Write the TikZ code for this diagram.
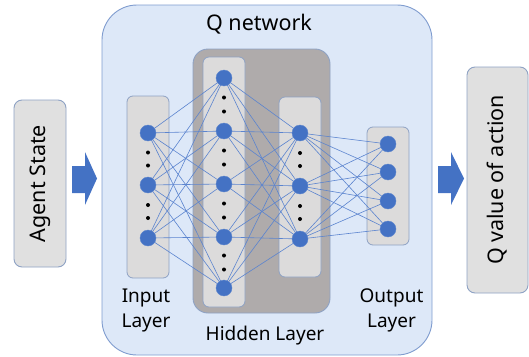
\documentclass[tikz,border=0pt]{standalone}
\usepackage{fontspec}
\setmainfont{Noto Sans}
\definecolor{qfill}{HTML}{DDE8F8}
\definecolor{qborder}{HTML}{7F9CCF}
\definecolor{gfill}{HTML}{E0E0E0}
\definecolor{gborder}{HTML}{8EA2C4}
\definecolor{dfill}{HTML}{AFABAB}
\definecolor{lfill}{HTML}{DCDBDB}
\definecolor{nblue}{HTML}{4472C4}
\definecolor{lblue}{HTML}{5B84CF}
\begin{document}
\begin{tikzpicture}[x=1pt,y=-1pt,
  layerbox/.style={draw=gborder, fill=lfill, line width=0.8pt, rounded corners=6pt},
  neuron/.style={circle, fill=nblue, draw=nblue!85!white, minimum size=16pt, inner sep=0pt},
  conn/.style={draw=lblue, line width=0.6pt},
  dotnode/.style={circle, fill=black, minimum size=4pt, inner sep=0pt},
  lbl/.style={font=\fontsize{19}{25}\selectfont, align=center, inner sep=0pt, anchor=base},
  bigtxt/.style={font=\fontsize{21.5}{24}\selectfont, inner sep=0pt},
  bigarrow/.style={fill=nblue}]
\useasboundingbox (0,0) rectangle (529,356);
% outer Q network
\draw[fill=qfill, draw=qborder, line width=0.9pt, rounded corners=35pt] (102,5) rectangle (432,355);
\node[bigtxt, anchor=base] (qtitle) at (259,30) {Q network};
% agent state and output box
\draw[fill=gfill, draw=gborder, line width=0.9pt, rounded corners=8pt] (14,100) rectangle (66,267);
\node[bigtxt, rotate=90] (agent) at (40,183.5) {Agent State};
\draw[fill=gfill, draw=gborder, line width=0.9pt, rounded corners=8pt] (467,67) rectangle (528,293);
\node[bigtxt, rotate=90] (qval) at (497.5,180) {Q value of action};
% arrows
\fill[bigarrow] (72,166) -- (85,166) -- (85,152) -- (97,178.5) -- (85,205) -- (85,193) -- (72,193) -- cycle;
\fill[bigarrow] (438,166) -- (451,166) -- (451,152) -- (464,178.5) -- (451,205) -- (451,193) -- (438,193) -- cycle;
% hidden dark box
\draw[fill=dfill, draw=gborder, line width=0.9pt, rounded corners=15pt] (193,49) rectangle (330,313);
% layer boxes
\draw[layerbox] (127,96) rectangle (169,278);
\draw[layerbox] (203,57) rectangle (245,307);
\draw[layerbox] (279,97) rectangle (321,277);
\draw[layerbox] (367,127) rectangle (409,245);
% neuron coordinates
\foreach \y [count=\i] in {133,185,238} \coordinate (a\i) at (148,\y);
\foreach \y [count=\i] in {78,131,184,237,288} \coordinate (b\i) at (224,\y);
\foreach \y [count=\i] in {133,186,239} \coordinate (c\i) at (300,\y);
\foreach \y [count=\i] in {144,172,201,229} \coordinate (d\i) at (388,\y);
% dots
\foreach \ya/\yb in {133/185,185/238} {
  \node[dotnode] at (148,{(\ya+\yb)/2-6.5}) {};
  \node[dotnode] at (148,{(\ya+\yb)/2+6.5}) {};}
\foreach \ya/\yb in {78/131,131/184,184/237,237/288} {
  \node[dotnode] at (224,{(\ya+\yb)/2-7}) {};
  \node[dotnode] at (224,{(\ya+\yb)/2+7}) {};}
\foreach \ya/\yb in {133/186,186/239} {
  \node[dotnode] at (300,{(\ya+\yb)/2-6.5}) {};
  \node[dotnode] at (300,{(\ya+\yb)/2+6.5}) {};}
% connections
\foreach \i in {1,2,3} \foreach \j in {1,...,5} \draw[conn] (a\i) -- (b\j);
\foreach \i in {1,...,5} \foreach \j in {1,2,3} \draw[conn] (b\i) -- (c\j);
\foreach \i in {1,2,3} \foreach \j in {1,...,4} \draw[conn] (c\i) -- (d\j);
% neurons
\foreach \n in {a1,a2,a3,b1,b2,b3,b4,b5,c1,c2,c3,d1,d2,d3,d4} \node[neuron] (n\n) at (\n) {};
% labels
\node[lbl] (inlbl) at (146,327) {Input\\Layer};
\node[lbl] (hidlbl) at (265,340) {Hidden Layer};
\node[lbl] (outlbl) at (391.5,327) {Output\\Layer};
\end{tikzpicture}
\end{document}
